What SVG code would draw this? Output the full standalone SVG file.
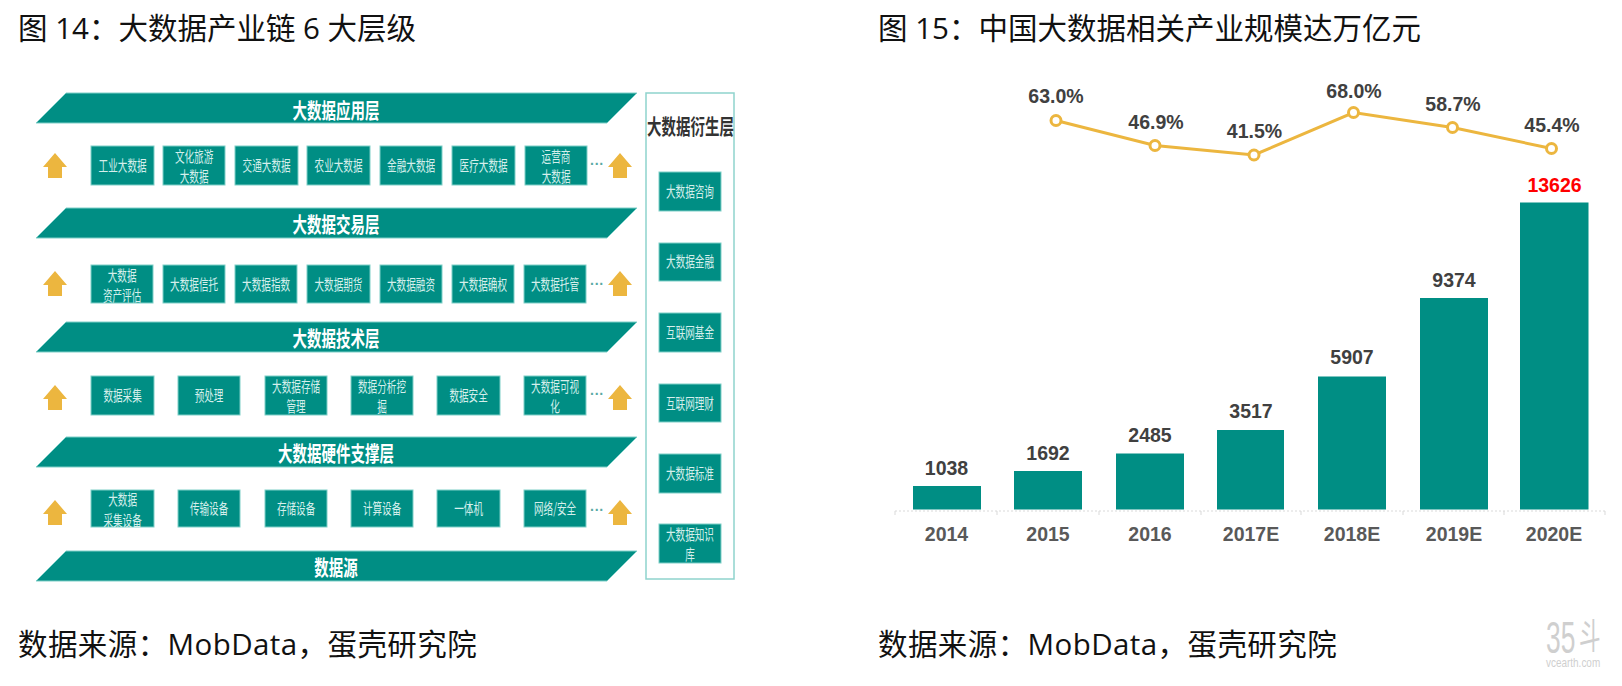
<svg xmlns="http://www.w3.org/2000/svg" width="1622" height="686" viewBox="0 0 1622 686">
<style>
.t{font-family:"Open Sans","Noto Sans CJK SC",sans-serif;font-size:29.5px;fill:#111}
.s{letter-spacing:.42px}
.band{fill:#008e84;stroke:#7fcfc8;stroke-width:1}
.bt,.ft{font-family:"Noto Sans CJK SC",sans-serif;font-size:21px;font-weight:700;text-anchor:middle;transform-box:fill-box;transform-origin:center;transform:scaleX(.69)}
.bt{fill:#fff}
.ft{fill:#333}
.box{fill:#008e84;stroke:#7fcfc8;stroke-width:1}
.bx{font-family:"Noto Sans CJK SC",sans-serif;font-size:15px;fill:#d5efec;text-anchor:middle;transform-box:fill-box;transform-origin:center;transform:scaleX(.64)}
.ar{fill:#ecb63f}
.dot{font-family:"Liberation Sans",sans-serif;font-size:14px;font-weight:700;fill:#5aa9a4;text-anchor:middle}
.v{font-family:"Liberation Sans",sans-serif;font-size:19.5px;font-weight:700;fill:#404040;text-anchor:middle}
.c{fill:#595959}
.red{fill:#ff0000}
.bar{fill:#008e84}
.line{fill:none;stroke:#ecb63f;stroke-width:3}
.pt{fill:#fff;stroke:#ecb63f;stroke-width:3}
.axis{stroke:#d9d9d9;stroke-width:1;fill:none}
.wm{fill:#cfcfcf;font-family:"Liberation Sans",sans-serif;transform-box:fill-box;transform-origin:left center}
</style>
<defs><path id="up" d="M0 0L12 14H7V25H-7V14H-12Z"/></defs>
<rect width="1622" height="686" fill="#fff"/>
<g id="titles">
<text class="t" x="18" y="39">图 14：大数据产业链 6 大层级</text>
<text class="t" x="878" y="39">图 15：中国大数据相关产业规模达万亿元</text>
<text class="t s" x="18" y="655">数据来源：MobData，蛋壳研究院</text>
<text class="t s" x="878" y="655">数据来源：MobData，蛋壳研究院</text>
</g>
<g id="bands">
<g id="b1"><polygon class="band" points="66,93 637,93 607,123 36,123"/><text class="bt" x="336" y="118">大数据应用层</text></g>
<g id="b2"><polygon class="band" points="66,208 637,208 607,238 36,238"/><text class="bt" x="336" y="232">大数据交易层</text></g>
<g id="b3"><polygon class="band" points="66,322 637,322 607,352 36,352"/><text class="bt" x="336" y="346">大数据技术层</text></g>
<g id="b4"><polygon class="band" points="66,437 637,437 607,467 36,467"/><text class="bt" x="336" y="461">大数据硬件支撑层</text></g>
<g id="b5"><polygon class="band" points="66,551 637,551 607,581 36,581"/><text class="bt" x="336" y="575">数据源</text></g>
</g>
<g id="row1">
<g id="r1a"><rect class="box" x="91" y="146" width="63" height="39"/><text class="bx" x="122.5" y="171">工业大数据</text></g>
<g id="r1b"><rect class="box" x="163" y="146" width="62" height="39"/><text class="bx" x="194" y="162">文化旅游</text><text class="bx" x="194" y="182">大数据</text></g>
<g id="r1c"><rect class="box" x="235" y="146" width="63" height="39"/><text class="bx" x="266.5" y="171">交通大数据</text></g>
<g id="r1d"><rect class="box" x="307" y="146" width="63" height="39"/><text class="bx" x="338.5" y="171">农业大数据</text></g>
<g id="r1e"><rect class="box" x="380" y="146" width="62" height="39"/><text class="bx" x="411" y="171">金融大数据</text></g>
<g id="r1f"><rect class="box" x="452" y="146" width="63" height="39"/><text class="bx" x="483.5" y="171">医疗大数据</text></g>
<g id="r1g"><rect class="box" x="525" y="146" width="62" height="39"/><text class="bx" x="556" y="162">运营商</text><text class="bx" x="556" y="182">大数据</text></g>
</g>
<g id="row2">
<g id="r2a"><rect class="box" x="91" y="265" width="62" height="38"/><text class="bx" x="122" y="281">大数据</text><text class="bx" x="122" y="301">资产评估</text></g>
<g id="r2b"><rect class="box" x="163" y="265" width="62" height="38"/><text class="bx" x="194" y="290">大数据信托</text></g>
<g id="r2c"><rect class="box" x="235" y="265" width="62" height="38"/><text class="bx" x="266" y="290">大数据指数</text></g>
<g id="r2d"><rect class="box" x="307" y="265" width="63" height="38"/><text class="bx" x="338.5" y="290">大数据期货</text></g>
<g id="r2e"><rect class="box" x="380" y="265" width="62" height="38"/><text class="bx" x="411" y="290">大数据融资</text></g>
<g id="r2f"><rect class="box" x="452" y="265" width="62" height="38"/><text class="bx" x="483" y="290">大数据确权</text></g>
<g id="r2g"><rect class="box" x="524" y="265" width="62" height="38"/><text class="bx" x="555" y="290">大数据托管</text></g>
</g>
<g id="row3">
<g id="r3a"><rect class="box" x="91" y="376" width="63" height="39"/><text class="bx" x="122.5" y="401">数据采集</text></g>
<g id="r3b"><rect class="box" x="178" y="376" width="62" height="39"/><text class="bx" x="209" y="401">预处理</text></g>
<g id="r3c"><rect class="box" x="265" y="376" width="62" height="39"/><text class="bx" x="296" y="392">大数据存储</text><text class="bx" x="296" y="412">管理</text></g>
<g id="r3d"><rect class="box" x="351" y="376" width="62" height="39"/><text class="bx" x="382" y="392">数据分析挖</text><text class="bx" x="382" y="412">掘</text></g>
<g id="r3e"><rect class="box" x="437" y="376" width="63" height="39"/><text class="bx" x="468.5" y="401">数据安全</text></g>
<g id="r3f"><rect class="box" x="524" y="376" width="62" height="39"/><text class="bx" x="555" y="392">大数据可视</text><text class="bx" x="555" y="412">化</text></g>
</g>
<g id="row4">
<g id="r4a"><rect class="box" x="91" y="490" width="63" height="37"/><text class="bx" x="122.5" y="505">大数据</text><text class="bx" x="122.5" y="526">采集设备</text></g>
<g id="r4b"><rect class="box" x="178" y="490" width="62" height="37"/><text class="bx" x="209" y="514">传输设备</text></g>
<g id="r4c"><rect class="box" x="265" y="490" width="62" height="37"/><text class="bx" x="296" y="514">存储设备</text></g>
<g id="r4d"><rect class="box" x="351" y="490" width="62" height="37"/><text class="bx" x="382" y="514">计算设备</text></g>
<g id="r4e"><rect class="box" x="437" y="490" width="63" height="37"/><text class="bx" x="468.5" y="514">一体机</text></g>
<g id="r4f"><rect class="box" x="524" y="490" width="62" height="37"/><text class="bx" x="555" y="514">网络/安全</text></g>
</g>
<g id="arrows">
<use class="ar" href="#up" x="55" y="153"/><use class="ar" href="#up" x="620" y="153"/>
<use class="ar" href="#up" x="55" y="271"/><use class="ar" href="#up" x="620" y="271"/>
<use class="ar" href="#up" x="55" y="385"/><use class="ar" href="#up" x="620" y="385"/>
<use class="ar" href="#up" x="55" y="500"/><use class="ar" href="#up" x="620" y="500"/>
<text class="dot" x="597" y="169">···</text>
<text class="dot" x="597" y="289">···</text>
<text class="dot" x="597" y="399">···</text>
<text class="dot" x="597" y="515">···</text>
</g>
<g id="derived">
<rect x="646" y="93" width="88" height="486" fill="none" stroke="#8fd3cd" stroke-width="1.5"/>
<text class="ft" x="690.5" y="134">大数据衍生层</text>
<g id="d1"><rect class="box" x="659" y="172" width="62" height="39"/><text class="bx" x="690" y="197">大数据咨询</text></g>
<g id="d2"><rect class="box" x="659" y="243" width="62" height="38"/><text class="bx" x="690" y="267">大数据金融</text></g>
<g id="d3"><rect class="box" x="659" y="313" width="62" height="39"/><text class="bx" x="690" y="338">互联网基金</text></g>
<g id="d4"><rect class="box" x="659" y="384" width="62" height="38"/><text class="bx" x="690" y="409">互联网理财</text></g>
<g id="d5"><rect class="box" x="659" y="454" width="62" height="39"/><text class="bx" x="690" y="479">大数据标准</text></g>
<g id="d6"><rect class="box" x="659" y="524" width="62" height="39"/><text class="bx" x="690" y="540">大数据知识</text><text class="bx" x="690" y="560">库</text></g>
</g>
<g id="axis">
<path class="axis" stroke-dasharray="2 2" d="M895 511H1605"/>
<path class="axis" d="M895 511v4M997 511v4M1099 511v4M1201 511v4M1301 511v4M1403 511v4M1504 511v4M1605 511v4"/>
</g>
<g id="bars">
<g id="bar2014"><rect class="bar" x="913" y="486" width="68" height="23.500"/><text class="v" x="946.500" y="475">1038</text><text class="v c" x="946.500" y="541">2014</text></g>
<g id="bar2015"><rect class="bar" x="1014" y="471" width="68" height="38.500"/><text class="v" x="1048" y="460">1692</text><text class="v c" x="1048" y="541">2015</text></g>
<g id="bar2016"><rect class="bar" x="1116" y="453.500" width="68" height="56"/><text class="v" x="1150" y="442">2485</text><text class="v c" x="1150" y="541">2016</text></g>
<g id="bar2017"><rect class="bar" x="1217" y="430" width="67" height="79.500"/><text class="v" x="1251" y="418">3517</text><text class="v c" x="1251" y="541">2017E</text></g>
<g id="bar2018"><rect class="bar" x="1318" y="376.500" width="68" height="133"/><text class="v" x="1352" y="364">5907</text><text class="v c" x="1352" y="541">2018E</text></g>
<g id="bar2019"><rect class="bar" x="1420" y="298" width="68" height="211.500"/><text class="v" x="1454" y="287">9374</text><text class="v c" x="1454" y="541">2019E</text></g>
<g id="bar2020"><rect class="bar" x="1520" y="202.500" width="68.500" height="307"/><text class="v red" x="1554.500" y="192">13626</text><text class="v c" x="1554" y="541">2020E</text></g>
</g>
<g id="growth">
<polyline class="line" points="1056,120.500 1155,145.500 1254,155 1353.500,112.500 1452.500,127.500 1551.500,148.500"/>
<circle class="pt" cx="1056" cy="120.500" r="5"/><circle class="pt" cx="1155" cy="145.500" r="5"/><circle class="pt" cx="1254" cy="155" r="5"/><circle class="pt" cx="1353.500" cy="112.500" r="5"/><circle class="pt" cx="1452.500" cy="127.500" r="5"/><circle class="pt" cx="1551.500" cy="148.500" r="5"/>
<text class="v" x="1056" y="103">63.0%</text><text class="v" x="1156" y="129">46.9%</text><text class="v" x="1254.500" y="138">41.5%</text><text class="v" x="1354" y="98">68.0%</text><text class="v" x="1453" y="111">58.7%</text><text class="v" x="1552" y="132">45.4%</text>
</g>
<g id="watermark">
<text class="wm" x="1546" y="653" font-size="44" style="transform:scaleX(.6)">35<tspan font-size="36" dx="6" dy="-4" style="font-family:'Noto Sans CJK SC',sans-serif">斗</tspan></text>
<text class="wm" x="1546" y="667" font-size="12" style="transform:scaleX(.83)">vcearth.com</text>
</g>
</svg>
